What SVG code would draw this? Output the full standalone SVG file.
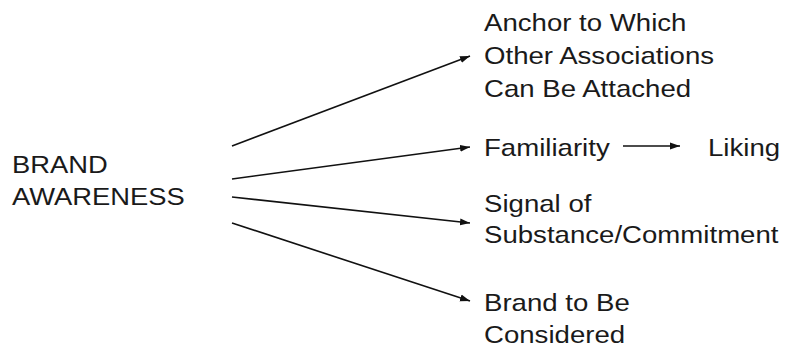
<svg xmlns="http://www.w3.org/2000/svg" width="787" height="347" viewBox="0 0 787 347">
  <style>
    .t { font-family: "Liberation Sans", Arial, sans-serif; font-size: 24px; fill: #1a1a1a; }
    .c { stroke: #111; stroke-width: 1.6; fill: none; marker-end: url(#ah); }
  </style>
  <defs>
    <marker id="ah" markerUnits="userSpaceOnUse" markerWidth="11" markerHeight="9" refX="10" refY="4.5" orient="auto">
      <path d="M0,1 L10,4.5 L0,8 Z" fill="#111"/>
    </marker>
  </defs>
  <rect width="787" height="347" fill="#fff"/>
  <g id="brand-awareness" transform="translate(12,0) scale(1.14,1)">
    <text class="t" x="0" y="173">BRAND</text>
    <text class="t" x="0" y="205">AWARENESS</text>
  </g>
  <g id="anchor" transform="translate(484,0) scale(1.15,1)">
    <text class="t" x="0" y="31">Anchor to Which</text>
    <text class="t" x="0" y="64">Other Associations</text>
    <text class="t" x="0" y="97.5">Can Be Attached</text>
  </g>
  <g id="familiarity" transform="translate(484,0) scale(1.15,1)">
    <text class="t" x="0" y="156.5">Familiarity</text>
  </g>
  <g id="liking" transform="translate(708,0) scale(1.15,1)">
    <text class="t" x="0" y="156.5">Liking</text>
  </g>
  <g id="signal" transform="translate(484,0) scale(1.15,1)">
    <text class="t" x="0" y="212">Signal of</text>
    <text class="t" x="0" y="243.5">Substance/Commitment</text>
  </g>
  <g id="considered" transform="translate(484,0) scale(1.15,1)">
    <text class="t" x="0" y="311">Brand to Be</text>
    <text class="t" x="0" y="343">Considered</text>
  </g>
  <g id="connectors">
    <line class="c" x1="232" y1="146" x2="470" y2="56"/>
    <line class="c" x1="232" y1="179" x2="470" y2="147"/>
    <line class="c" x1="232" y1="197" x2="470" y2="223"/>
    <line class="c" x1="232" y1="223" x2="470" y2="301"/>
    <line class="c" x1="623" y1="146" x2="680" y2="146"/>
  </g>
</svg>
